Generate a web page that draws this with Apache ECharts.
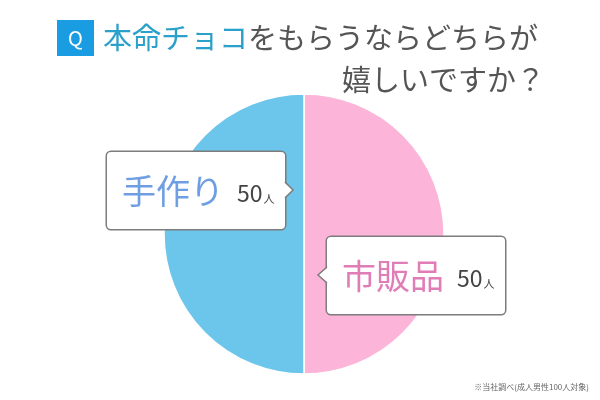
<!DOCTYPE html>
<html><head><meta charset="utf-8">
<script src="https://cdn.jsdelivr.net/npm/echarts@6/dist/echarts.min.js"></script>
<style>html,body{margin:0;padding:0;background:#fff}#c{width:600px;height:400px}</style>
</head><body><div id="c"></div>
<script>
const categories = ['市販品', '手作り'];
const values = [50, 50];
const unit = '人';
const titleHighlight = '本命チョコ';
const titleRest = 'をもらうならどちらが';
const titleLine2 = '嬉しいですか？';
const note = '※当社調べ(成人男性100人対象)';

const sliceColors = ['#fcb4d9', '#6cc5eb'];
const nameColors = ['#e07db6', '#6f9fe2'];
const FONT = '"Noto Sans CJK JP", "Noto Sans", sans-serif';

const chart = echarts.init(document.getElementById('c'), null, {renderer: 'canvas'});

const rich = {
  v: {fontSize: 23, color: '#444', fontFamily: FONT, verticalAlign: 'bottom', lineHeight: 24, padding: [0, 0, 6, 13]},
  u: {fontSize: 11, color: '#444', fontFamily: FONT, verticalAlign: 'bottom', lineHeight: 14, padding: [0, 0, 7, 1]}
};
nameColors.forEach((c, i) => {
  rich['n' + i] = {fontSize: 34, color: c, fontFamily: FONT, lineHeight: 40};
});

chart.setOption({
  backgroundColor: '#fff',
  title: [
    {
      left: 52, top: 15,
      text: '{q|Q}{s|}{b|' + titleHighlight + '}{g|' + titleRest + '}',
      textStyle: {
        fontWeight: 'normal',
        rich: {
          q: {backgroundColor: '#1a9ce3', color: '#fff', width: 37, height: 36, lineHeight: 36, align: 'center', fontSize: 20, fontFamily: FONT, fontWeight: 'normal'},
          s: {width: 9},
          b: {fontSize: 29, color: '#2aa0cb', fontFamily: FONT, lineHeight: 36, fontWeight: 'normal'},
          g: {fontSize: 29, color: '#555', fontFamily: FONT, lineHeight: 36, fontWeight: 'normal'}
        }
      }
    },
    {
      right: 50, top: 57,
      text: titleLine2,
      textStyle: {fontSize: 29, color: '#555', fontFamily: FONT, fontWeight: 'normal', lineHeight: 36}
    },
    {
      right: 6, bottom: 4,
      text: note,
      textStyle: {fontSize: 8, color: '#666', fontFamily: FONT, fontWeight: 'normal'}
    }
  ],
  series: [{
    type: 'pie',
    center: [304, 234],
    radius: 140,
    startAngle: 90,
    clockwise: true,
    silent: true,
    animation: false,
    itemStyle: {borderColor: '#fff', borderWidth: 1.5},
    data: categories.map((n, i) => ({name: n, value: values[i], itemStyle: {color: sliceColors[i]}})),
    label: {
      show: true,
      formatter: p => '{n' + p.dataIndex + '|' + p.name + '}{v|' + p.value + '}{u|' + unit + '}',
      rich: rich,
      width: 153,
      overflow: 'none',
      backgroundColor: '#fff',
      borderColor: '#7c7c7c',
      borderWidth: 1.5,
      borderRadius: 4,
      padding: [19, 10, 18, 15]
    },
    labelLine: {show: false},
    labelLayout: p => p.dataIndex === 1
      ? {x: 107, y: 152, align: 'left', verticalAlign: 'top'}
      : {x: 327, y: 237, align: 'left', verticalAlign: 'top'}
  }],
  graphic: [
    {type: 'polygon', z: 100, shape: {points: [[284, 182], [293, 190], [284, 198]]}, style: {fill: '#fff'}},
    {type: 'polyline', z: 101, shape: {points: [[285, 182], [293, 190], [285, 198]]}, style: {stroke: '#7c7c7c', lineWidth: 1.5, fill: null}},
    {type: 'polygon', z: 100, shape: {points: [[328, 267], [318, 275], [328, 283]]}, style: {fill: '#fff'}},
    {type: 'polyline', z: 101, shape: {points: [[327, 267], [318, 275], [327, 283]]}, style: {stroke: '#7c7c7c', lineWidth: 1.5, fill: null}}
  ]
});
</script></body></html>
